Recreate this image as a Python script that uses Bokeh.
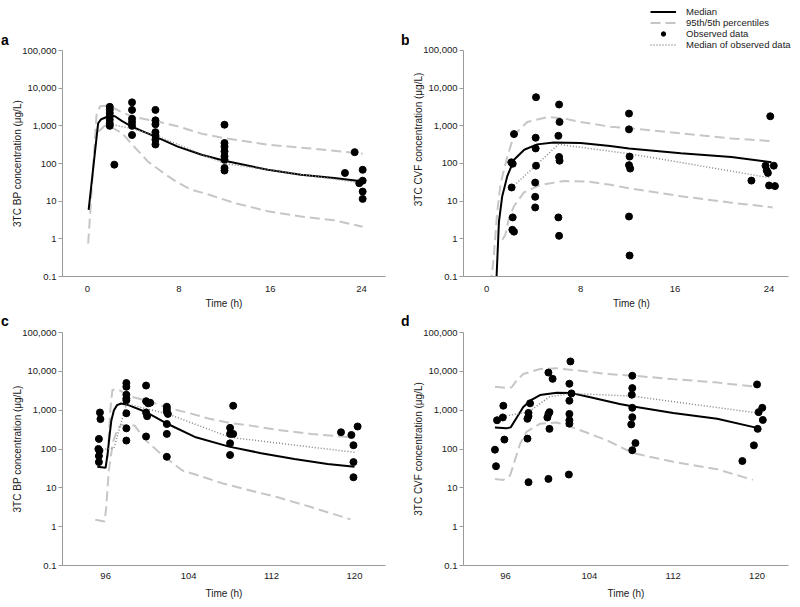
from bokeh.plotting import figure
from bokeh.models import Range1d, FixedTicker, NumeralTickFormatter, Legend, LegendItem
from bokeh.layouts import row, column
from bokeh.embed import file_html
from bokeh.resources import INLINE
from bokeh.core.properties import value

FONT = "Liberation Sans"
Y_TICKS = [0.1, 1, 10, 100, 1000, 10000, 100000]
X_TICKS_DAY1 = [0, 8, 16, 24]
X_TICKS_DAY5 = [96, 104, 112, 120]
Y_LABEL_BP = "3TC BP concentration (\u03bcg/L)"
Y_LABEL_CVF = "3TC CVF concentration (\u03bcg/L)"
X_LABEL = "Time (h)"
PANEL_LETTERS = ["a", "b", "c", "d"]
LEGEND_LABELS = ["Median", "95th/5th percentiles", "Observed data", "Median of observed data"]

# ---------------- panel a : BP, day 1 ----------------
a_med_t = [0.1, 0.93, 1.2, 1.95, 2.4, 3.0, 3.85, 5.0, 5.9, 7.9, 10.0, 12.0, 15.8, 18.7, 21.6, 24.0]
a_med_v = [5.9, 1170, 1500, 1850, 1800, 1350, 960, 680, 525, 280, 170, 118, 68, 50, 41, 34]
a_hi_t = [0.06, 0.79, 1.1, 1.6, 2.2, 3.0, 4.1, 5.9, 8.0, 10.0, 12.0, 15.8, 20.2, 24.1]
a_hi_v = [0.75, 1950, 3300, 3400, 3100, 2300, 1700, 1350, 950, 620, 470, 316, 240, 182]
a_lo_t = [0.95, 1.5, 2.0, 3.0, 4.0, 5.3, 7.05, 8.0, 9.1, 10.3, 12.9, 15.8, 18.7, 21.6, 24.1]
a_lo_v = [700, 1000, 950, 650, 300, 112, 46, 30, 20, 16, 8.9, 5.4, 3.9, 3.1, 2.1]
a_om_t = [1.95, 3.9, 5.95, 12.0, 23.8]
a_om_v = [1100, 850, 560, 100, 31]
a_obs_t = [1.95, 1.95, 1.95, 1.95, 1.95, 1.95, 1.95, 2.35,
           3.9, 3.9, 3.9, 3.9, 3.9, 3.9,
           5.95, 5.95, 5.95, 5.95, 5.95, 5.95, 5.95,
           12.0, 12.0, 12.0, 12.0, 12.0, 12.0, 12.0, 12.0,
           22.55, 23.4, 24.1, 24.1, 23.8, 24.1, 24.1]
a_obs_v = [3200, 2700, 2200, 1800, 1450, 1150, 1000, 93,
           4200, 2650, 1550, 1250, 1000, 570,
           2650, 1400, 1100, 680, 560, 430, 320,
           1070, 350, 280, 210, 155, 126, 76, 65,
           56, 200, 68, 35, 30, 18, 11.5]

# ---------------- panel b : CVF, day 1 ----------------
b_med_t = [0.8, 0.85, 1.05, 1.33, 1.76, 2.33, 3.2, 4.3, 5.7, 8.0, 10.5, 12.1, 16.5, 20.8, 24.2]
b_med_v = [0.03, 0.1, 2.8, 13.5, 46, 125, 230, 320, 360, 350, 290, 250, 186, 148, 107]
b_hi_t = [0.35, 0.6, 0.9, 1.2, 1.76, 2.33, 3.46, 5.2, 6.6, 8.0, 10.55, 12.1, 16.5, 20.8, 24.3]
b_hi_v = [0.06, 0.3, 5, 30, 150, 560, 1260, 1700, 1550, 1250, 940, 860, 630, 460, 390]
b_lo_t = [1.35, 1.6, 1.9, 2.33, 3.18, 4.6, 6.6, 8.6, 10.55, 12.1, 16.5, 20.8, 24.3]
b_lo_v = [0.95, 1.3, 3.5, 7.4, 17, 27, 34, 33, 27, 22, 13.5, 9.1, 6.8]
b_om_t = [2.15, 4.17, 6.1, 12.15, 24.0]
b_om_v = [23, 87, 320, 180, 42]
b_obs_t = [2.1, 2.22, 2.33, 2.13, 2.22, 2.19, 2.33,
           4.2, 4.17, 4.17, 4.2, 4.13, 4.13, 4.13,
           6.16, 6.2, 6.1, 6.16, 6.2, 6.1, 6.16,
           12.1, 12.1, 12.15, 12.1, 12.2, 12.1, 12.15,
           22.5, 24.1, 23.7, 24.4, 23.8, 23.9, 24.0, 24.5]
b_obs_v = [107, 98, 600, 23, 3.7, 1.73, 1.55,
           5700, 480, 250, 87, 31, 13, 6.8,
           3650, 1260, 540, 148, 118, 3.7, 1.2,
           2100, 800, 152, 90, 73, 3.9, 0.36,
           35, 1780, 87, 87, 65, 56, 26, 25]

# ---------------- panel c : BP, day 5 ----------------
c_med_t = [95.2, 96.0, 96.2, 96.4, 96.55, 96.8, 97.1, 97.5, 98.2, 100.0, 102.0, 104.7, 107.9, 111.0, 114.2, 117.4, 120.0]
c_med_v = [35, 33, 80, 250, 540, 1000, 1350, 1480, 1350, 870, 440, 200, 115, 78, 55, 41, 35]
c_hi_t = [96.2, 96.45, 96.65, 97.0, 97.4, 98.15, 100.0, 102.0, 104.0, 106.0, 108.0, 110.0, 112.6, 115.8, 119.6]
c_hi_v = [60, 1000, 3300, 3500, 3200, 2350, 1750, 1150, 850, 600, 470, 400, 310, 245, 200]
c_lo_t = [95.0, 95.9, 96.05, 96.3, 96.7, 97.2, 97.6, 98.8, 99.9, 101.5, 103.4, 105.4, 107.3, 109.4, 112.6, 115.8, 119.6]
c_lo_v = [1.5, 1.35, 3, 27, 150, 350, 420, 400, 165, 68, 28, 19, 13, 9.3, 5.7, 3.2, 1.55]
c_om_t = [95.4, 96.8, 98.0, 100.0, 102.0, 108.0, 120.0]
c_om_v = [95, 105, 1450, 1080, 800, 200, 82]
c_obs_t = [95.45, 95.5, 95.35, 95.3, 95.4, 95.35, 95.35,
           98.0, 98.0, 98.0, 98.0, 98.0, 98.0, 98.0, 98.0,
           99.9, 99.9, 100.3, 100.1, 99.9, 100.0, 99.9,
           101.9, 101.9, 101.9, 102.0, 101.9, 101.9, 101.9,
           108.3, 108.0, 108.0, 108.3, 108.0, 108.0,
           118.7, 119.7, 120.3, 119.9, 119.9, 119.9]
c_obs_v = [870, 590, 182, 100, 90, 66, 46,
           5000, 4000, 2500, 2000, 1800, 830, 340, 165,
           4300, 1700, 1550, 1500, 870, 700, 210,
           1230, 1070, 910, 800, 440, 245, 63,
           1300, 350, 245, 245, 140, 70,
           270, 230, 380, 125, 46, 18.7]

# ---------------- panel d : CVF, day 5 ----------------
d_med_t = [95.0, 96.1, 96.5, 97.1, 97.7, 98.4, 99.3, 100.9, 102.3, 104.1, 106.9, 108.2, 112.0, 116.2, 120.0]
d_med_v = [360, 340, 360, 660, 1200, 1780, 2450, 2800, 2750, 2150, 1450, 1250, 850, 600, 350]
d_hi_t = [95.0, 96.2, 96.6, 97.1, 97.7, 99.3, 100.9, 103.0, 105.7, 108.2, 112.0, 116.0, 119.6]
d_hi_v = [4000, 3700, 3900, 6000, 8500, 11500, 12000, 10500, 8500, 7700, 6300, 5200, 4100]
d_lo_t = [95.0, 95.8, 96.45, 96.9, 97.4, 98.0, 99.3, 100.9, 102.8, 105.7, 108.2, 112.0, 116.2, 119.6]
d_lo_v = [17, 16, 21, 51, 137, 275, 450, 480, 330, 166, 78, 47, 30, 16]
d_om_t = [95.2, 98.2, 100.2, 102.2, 108.1, 120.0]
d_om_v = [650, 900, 2200, 2700, 2300, 850]
d_obs_t = [95.0, 95.1, 95.2, 95.75, 95.8, 95.9,
           98.35, 98.2, 98.2, 98.1, 98.1, 98.2,
           100.1, 100.5, 100.2, 100.1, 100.0, 100.2, 100.1,
           102.2, 102.1, 102.3, 102.1, 102.1, 102.1, 102.1, 102.05,
           108.1, 108.1, 108.05, 108.1, 108.1, 108.0, 108.4, 108.1,
           118.6, 119.7, 120.0, 120.15, 120.5, 120.55, 120.06]
d_obs_v = [96, 36, 550, 650, 1300, 175,
           1500, 850, 700, 600, 185, 14,
           9300, 6400, 890, 800, 650, 330, 17,
           18000, 4800, 2700, 1750, 800, 550, 450, 22,
           7700, 3700, 2500, 1150, 660, 430, 142, 93,
           49, 124, 4600, 890, 1150, 560, 330]

AXIS_COLOR = "#9a9a9a"
TEXT_COLOR = "#1a1a1a"
MED_COLOR = "black"
PCT_COLOR = "#c6c6c6"
OM_COLOR = "#858585"

Y_MIN, Y_MAX = 0.1, 100000


def make_panel(ylabel, xr, xticks, width, height, bl, br, bt, bb, frame_h,
               xstd, xlstd, med, hi, lo, om, obs, extra_top=0, x_axis_end=None):
    # extra_top: pixels of frame above the 100,000 line (room for a legend)
    decades = 6.0
    y_end = Y_MAX * 10 ** (extra_top / ((frame_h - extra_top) / decades)) if extra_top else Y_MAX
    p = figure(width=width, height=height, x_range=Range1d(*xr),
               y_range=Range1d(Y_MIN, y_end), y_axis_type="log",
               output_backend="svg", toolbar_location=None, frame_align=False,
               min_border_left=bl, min_border_right=br,
               min_border_top=bt, min_border_bottom=bb)
    p.outline_line_color = None
    p.xgrid.visible = False
    p.ygrid.visible = False
    p.background_fill_color = "white"
    p.border_fill_color = "white"

    xa = p.xaxis[0]
    xa.ticker = FixedTicker(ticks=xticks, minor_ticks=[])
    if x_axis_end is not None:
        xa.bounds = (xr[0], x_axis_end)
    xa.axis_label = X_LABEL
    xa.major_tick_out = 0
    xa.major_tick_in = 0
    xa.minor_tick_out = 0
    xa.minor_tick_in = 0
    xa.axis_line_color = AXIS_COLOR
    xa.major_label_standoff = xstd
    xa.axis_label_standoff = xlstd
    xa.major_label_text_font = FONT
    xa.major_label_text_font_size = "9.5px"
    xa.major_label_text_color = TEXT_COLOR
    xa.axis_label_text_font = FONT
    xa.axis_label_text_font_size = "10px"
    xa.axis_label_text_font_style = "normal"
    xa.axis_label_text_color = TEXT_COLOR

    ya = p.yaxis[0]
    ya.ticker = FixedTicker(ticks=Y_TICKS, minor_ticks=[])
    ya.formatter = NumeralTickFormatter(format="0,0.[0]")
    ya.bounds = (Y_MIN, Y_MAX)
    ya.axis_label = ylabel
    ya.major_tick_out = 4
    ya.major_tick_in = 0
    ya.minor_tick_out = 0
    ya.minor_tick_in = 0
    ya.major_tick_line_color = AXIS_COLOR
    ya.axis_line_color = AXIS_COLOR
    ya.major_label_standoff = 2
    ya.axis_label_standoff = -4
    ya.major_label_text_font = FONT
    ya.major_label_text_font_size = "9.5px"
    ya.major_label_text_color = TEXT_COLOR
    ya.axis_label_text_font = FONT
    ya.axis_label_text_font_size = "10px"
    ya.axis_label_text_font_style = "normal"
    ya.axis_label_text_color = TEXT_COLOR

    r_hi = p.line(hi[0], hi[1], line_color=PCT_COLOR, line_width=2, line_dash="10 5")
    p.line(lo[0], lo[1], line_color=PCT_COLOR, line_width=2, line_dash="10 5")
    r_med = p.line(med[0], med[1], line_color=MED_COLOR, line_width=2)
    r_om = p.line(om[0], om[1], line_color=OM_COLOR, line_width=1.5, line_dash="1 2")
    r_obs = p.scatter(obs[0], obs[1], size=7, fill_color="black", line_color="black")
    return p, (r_med, r_hi, r_obs, r_om)


def letter_fig(letter, width, height, baseline):
    f = figure(width=width, height=height, x_range=Range1d(0, width),
               y_range=Range1d(height, 0), output_backend="svg",
               toolbar_location=None, min_border=0, frame_align=False,
               x_axis_location=None, y_axis_location=None)
    f.outline_line_color = None
    f.xgrid.visible = False
    f.ygrid.visible = False
    f.text(x=[0.5], y=[baseline], text=[letter], text_font=value(FONT),
           text_font_size="14px", text_font_style="bold", text_color="black",
           text_baseline="alphabetic", text_align="left")
    return f


TOP_H = 311
BOT_H = 290
LET_W = 9
LEFT_W = 391
RIGHT_W = 390

# panel b frame runs 11 px further right than its axis line (room for legend text)
B_X0, B_X1 = -1.96, 25.65
B_FRAME_W = 325
B_X_EXT = B_X1 + 11 * (B_X1 - B_X0) / B_FRAME_W

pa, _ = make_panel(Y_LABEL_BP, (-2.19, 26.1), X_TICKS_DAY1, LEFT_W, TOP_H,
                   52, 15, 50, 34, 227, 9, 3,
                   (a_med_t, a_med_v), (a_hi_t, a_hi_v), (a_lo_t, a_lo_v),
                   (a_om_t, a_om_v), (a_obs_t, a_obs_v))
pb, rb = make_panel(Y_LABEL_CVF, (B_X0, B_X_EXT), X_TICKS_DAY1, RIGHT_W, TOP_H,
                    54, 0, 2, 34, 275, 9, 3,
                    (b_med_t, b_med_v), (b_hi_t, b_hi_v), (b_lo_t, b_lo_v),
                    (b_om_t, b_om_v), (b_obs_t, b_obs_v), extra_top=48, x_axis_end=B_X1)
pc, _ = make_panel(Y_LABEL_BP, (91.84, 122.99), X_TICKS_DAY5, LEFT_W, BOT_H,
                   52, 15, 21, 35, 234, 7, 6,
                   (c_med_t, c_med_v), (c_hi_t, c_hi_v), (c_lo_t, c_lo_v),
                   (c_om_t, c_om_v), (c_obs_t, c_obs_v))
pd, _ = make_panel(Y_LABEL_CVF, (92.0, 123.0), X_TICKS_DAY5, RIGHT_W, BOT_H,
                   54, 11, 21, 35, 234, 7, 6,
                   (d_med_t, d_med_v), (d_hi_t, d_hi_v), (d_lo_t, d_lo_v),
                   (d_om_t, d_om_v), (d_obs_t, d_obs_v))

legend = Legend(
    items=[LegendItem(label=lab, renderers=[r]) for lab, r in zip(LEGEND_LABELS, rb)],
    location=(187, 226),
    orientation="vertical",
    glyph_width=26, glyph_height=11, label_height=11,
    label_standoff=10, spacing=0, padding=0, margin=0,
    label_text_font=FONT, label_text_font_size="9.5px", label_text_color=TEXT_COLOR,
    border_line_alpha=0, background_fill_alpha=0,
)
pb.add_layout(legend, "center")

la = letter_fig(PANEL_LETTERS[0], LET_W, TOP_H, 39)
lb = letter_fig(PANEL_LETTERS[1], LET_W, TOP_H, 39)
lc = letter_fig(PANEL_LETTERS[2], LET_W, BOT_H, 9)
ld = letter_fig(PANEL_LETTERS[3], LET_W, BOT_H, 9)

layout = column(row(la, pa, lb, pb), row(lc, pc, ld, pd))
open("out.html", "w").write(file_html(layout, INLINE))
